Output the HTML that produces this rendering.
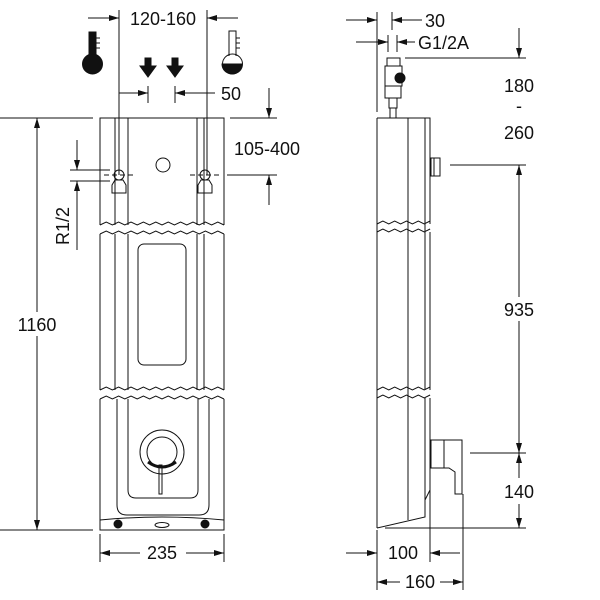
<!DOCTYPE html>
<html><head><style>body{margin:0;background:#fff}svg{display:block}text{font-family:"Liberation Sans",sans-serif;font-size:18px;fill:#111}</style></head><body>
<svg width="600" height="600" viewBox="0 0 600 600" xmlns="http://www.w3.org/2000/svg">
<defs>
<marker id="a" viewBox="0 0 10 6" refX="10" refY="3" markerWidth="10" markerHeight="6" orient="auto-start-reverse" markerUnits="userSpaceOnUse"><path d="M0,0L10,3L0,6z" fill="#111"/></marker>
<path id="w" d="M0,0 l6.2,-3 6.2,3 6.2,-3 6.2,3 6.2,-3 6.2,3 6.2,-3 6.2,3 6.2,-3 6.2,3 6.2,-3 6.2,3 6.2,-3 6.2,3 6.2,-3 6.2,3 6.2,-3 6.2,3 6.2,-3 6.2,3"/>
<path id="ws" d="M0,0 l5.9,-3 5.9,3 5.9,-3 5.9,3 5.9,-3 5.9,3 5.9,-3 5.9,3 5.9,-3"/>
</defs>
<g stroke="#111" stroke-width="1" fill="none">
<!-- FRONT VIEW -->
<line x1="119" y1="10" x2="119" y2="175"/><line x1="207" y1="10" x2="207" y2="175"/>
<line x1="88" y1="18" x2="119" y2="18" marker-end="url(#a)"/><line x1="238" y1="18" x2="207" y2="18" marker-end="url(#a)"/>
<line x1="148" y1="86" x2="148" y2="103"/><line x1="175" y1="86" x2="175" y2="103"/>
<line x1="119" y1="93" x2="148" y2="93" marker-end="url(#a)"/><line x1="215" y1="93" x2="175" y2="93" marker-end="url(#a)"/>
<line x1="0" y1="118" x2="93" y2="118"/><line x1="230" y1="118" x2="277" y2="118"/>
<line x1="0" y1="530" x2="93" y2="530"/>
<line x1="37" y1="118" x2="37" y2="530" marker-start="url(#a)" marker-end="url(#a)"/>
<line x1="269" y1="88" x2="269" y2="118" marker-end="url(#a)"/><line x1="269" y1="205" x2="269" y2="175" marker-end="url(#a)"/>
<line x1="227" y1="175" x2="277" y2="175"/>
<line x1="70" y1="170" x2="110" y2="170"/><line x1="70" y1="181" x2="110" y2="181"/>
<line x1="77" y1="140" x2="77" y2="170" marker-end="url(#a)"/><line x1="77" y1="250" x2="77" y2="181" marker-end="url(#a)"/>
<path d="M100,225 V118 H224 V225"/>
<line x1="115" y1="118" x2="115" y2="225"/><line x1="128" y1="118" x2="128" y2="225"/>
<line x1="197" y1="118" x2="197" y2="225"/><line x1="204" y1="118" x2="204" y2="225"/>
<use href="#w" x="100" y="225"/><use href="#w" x="100" y="234"/>
<circle cx="163" cy="165" r="7"/>
<line x1="104" y1="175" x2="134" y2="175" stroke-dasharray="5,3"/><line x1="190" y1="175" x2="222" y2="175" stroke-dasharray="5,3"/>
<circle cx="119" cy="175" r="5"/><circle cx="205" cy="175" r="5"/>
<path d="M112,193 v-8 l3,-5 h8 l3,5 v8z"/><path d="M198,193 v-8 l3,-5 h8 l3,5 v8z"/>
<line x1="100" y1="234" x2="100" y2="390"/><line x1="224" y1="234" x2="224" y2="390"/>
<line x1="115" y1="234" x2="115" y2="390"/><line x1="128" y1="234" x2="128" y2="390"/>
<line x1="197" y1="234" x2="197" y2="390"/><line x1="204" y1="234" x2="204" y2="390"/>
<rect x="138" y="244" width="48" height="121" rx="6"/>
<use href="#w" x="100" y="390"/><use href="#w" x="100" y="399"/>
<line x1="100" y1="399" x2="100" y2="530"/><line x1="224" y1="399" x2="224" y2="530"/>
<path d="M117,399 V505 q0,10 10,10 H199 q10,0 10,-10 V399"/>
<path d="M128,399 V490 q0,8 8,8 H190 q8,0 8,-8 V399"/>
<path d="M100,530 V520 q62,-6 124,0 V530 H100z"/>
<circle cx="118" cy="524" r="4" fill="#111"/><circle cx="205" cy="524" r="4" fill="#111"/>
<ellipse cx="162" cy="525" rx="7" ry="2.5"/>
<circle cx="162" cy="452" r="22"/><circle cx="162" cy="452" r="15"/>
<path d="M148,462 q14,10 28,0" stroke-width="3"/>
<rect x="159" y="465" width="3" height="29"/>
<line x1="100" y1="534" x2="100" y2="562"/><line x1="224" y1="534" x2="224" y2="562"/>
<line x1="140" y1="553" x2="100" y2="553" marker-end="url(#a)"/><line x1="186" y1="553" x2="224" y2="553" marker-end="url(#a)"/>
<rect x="89" y="32" width="7" height="26" fill="#111"/><circle cx="92.5" cy="64" r="10" fill="#111"/>
<line x1="96" y1="38" x2="100" y2="38"/><line x1="96" y1="43" x2="100" y2="43"/><line x1="96" y1="48" x2="100" y2="48"/>
<path d="M229,56 V31 h7 V56"/><path d="M222,64 a10,10 0 0 0 20,0z" fill="#111"/><circle cx="232.5" cy="64" r="10"/>
<line x1="236" y1="38" x2="240" y2="38"/><line x1="236" y1="43" x2="240" y2="43"/><line x1="236" y1="48" x2="240" y2="48"/>
<path d="M145,58 h6 v8 h5 l-8,11 -8,-11 h5z" fill="#111"/><path d="M172,58 h6 v8 h5 l-8,11 -8,-11 h5z" fill="#111"/>

<!-- SIDE VIEW -->
<line x1="377" y1="12" x2="377" y2="112"/><line x1="392" y1="12" x2="392" y2="30"/>
<line x1="346" y1="20" x2="377" y2="20" marker-end="url(#a)"/><line x1="422" y1="20" x2="392" y2="20" marker-end="url(#a)"/>
<line x1="388" y1="35" x2="388" y2="52"/><line x1="397" y1="35" x2="397" y2="52"/>
<line x1="356" y1="42" x2="388" y2="42" marker-end="url(#a)"/><line x1="415" y1="42" x2="397" y2="42" marker-end="url(#a)"/>
<rect x="387" y="58" width="13" height="8"/><rect x="385" y="66" width="17" height="20"/>
<circle cx="400" cy="78" r="5" fill="#111"/>
<rect x="385" y="86" width="16" height="12"/><rect x="389" y="98" width="8" height="10"/><rect x="390" y="108" width="6" height="10"/>
<path d="M377,118 H430 V224"/><line x1="377" y1="118" x2="377" y2="528"/>
<line x1="408" y1="118" x2="408" y2="520"/><line x1="425" y1="118" x2="425" y2="232"/>
<use href="#ws" x="377" y="224"/><use href="#ws" x="377" y="232"/>
<line x1="430" y1="232" x2="430" y2="390"/><line x1="425" y1="232" x2="425" y2="390"/>
<use href="#ws" x="377" y="390"/><use href="#ws" x="377" y="398"/>
<line x1="425" y1="398" x2="425" y2="500"/><line x1="430" y1="398" x2="430" y2="525"/>
<path d="M377,528 L425,517 V500 L430,490"/>
<rect x="431" y="158" width="9" height="18"/><line x1="434" y1="158" x2="434" y2="176"/>
<rect x="431" y="440" width="13" height="28"/>
<path d="M444,440 H462 V494 H455 V472 l-6,-4 h-5z"/>
<line x1="405" y1="58" x2="526" y2="58"/><line x1="519" y1="28" x2="519" y2="58" marker-end="url(#a)"/>
<line x1="450" y1="165" x2="526" y2="165"/>
<line x1="519" y1="453" x2="519" y2="165" marker-end="url(#a)"/><line x1="519" y1="165" x2="519" y2="453" marker-end="url(#a)"/>
<line x1="470" y1="453" x2="526" y2="453"/>
<line x1="519" y1="478" x2="519" y2="453" marker-end="url(#a)"/><line x1="519" y1="503" x2="519" y2="528" marker-end="url(#a)"/>
<line x1="385" y1="528" x2="526" y2="528"/>
<line x1="377" y1="530" x2="377" y2="590"/><line x1="430" y1="525" x2="430" y2="562"/><line x1="463" y1="494" x2="463" y2="590"/>
<line x1="346" y1="553" x2="377" y2="553" marker-end="url(#a)"/><line x1="460" y1="553" x2="430" y2="553" marker-end="url(#a)"/>
<line x1="400" y1="582" x2="377" y2="582" marker-end="url(#a)"/><line x1="440" y1="582" x2="463" y2="582" marker-end="url(#a)"/>
</g>
<g fill="#fff"><rect x="15" y="312" width="44" height="24"/><rect x="500" y="297" width="38" height="24"/><rect x="500" y="480" width="38" height="24"/></g>
<text x="163" y="25" text-anchor="middle">120-160</text>
<text x="221" y="100">50</text>
<text x="234" y="155">105-400</text>
<text x="37" y="331" text-anchor="middle">1160</text>
<text transform="translate(69,226) rotate(-90)" text-anchor="middle">R1/2</text>
<text x="162" y="559" text-anchor="middle">235</text>
<text x="425" y="27">30</text>
<text x="418" y="49">G1/2A</text>
<text x="519" y="92" text-anchor="middle">180</text>
<text x="519" y="112" text-anchor="middle">-</text>
<text x="519" y="139" text-anchor="middle">260</text>
<text x="519" y="316" text-anchor="middle">935</text>
<text x="519" y="498" text-anchor="middle">140</text>
<text x="403" y="559" text-anchor="middle">100</text>
<text x="420" y="588" text-anchor="middle">160</text>
</svg>
</body></html>
